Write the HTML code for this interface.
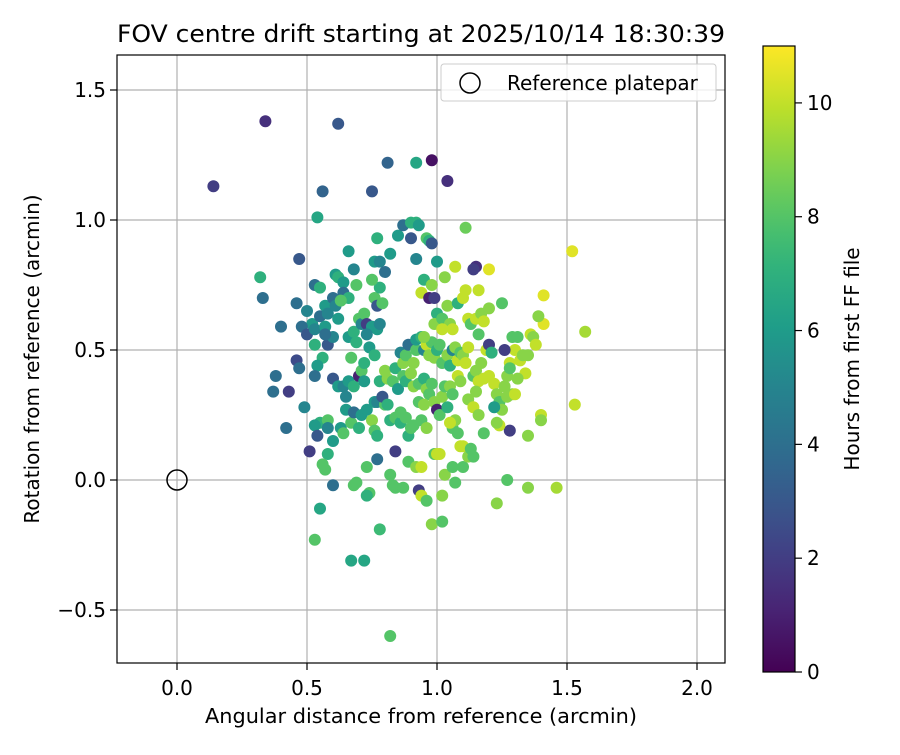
<!DOCTYPE html>
<html><head><meta charset="utf-8"><style>
body{margin:0;background:#fff}
svg text{font-family:"DejaVu Sans","Liberation Sans",sans-serif;fill:#000}
</style></head><body>
<svg id="chart" width="900" height="750" xmlns="http://www.w3.org/2000/svg">
<rect width="900" height="750" fill="#fff"/>
<g id="grid"></g><g id="pts"></g><g id="axes"></g>
</svg>
<script>
const xTicks=[0.0,0.5,1.0,1.5,2.0];
const yTicks=[-0.5,0.0,0.5,1.0,1.5];
const cbTicks=[0,2,4,6,8,10];
const xs=[0.34,0.14,0.62,0.81,0.92,0.98,1.04,0.56,0.75,0.54,0.47,0.32,0.33,0.40,0.38,0.37,0.43,0.42,0.46,0.47,0.49,0.51,0.55,0.53,0.67,0.72,0.82,0.78,0.60,1.35,1.46,1.23,1.27,1.52,1.57,1.53,1.11,1.20,1.15,1.41,1.41,1.28,1.35,1.40,1.40,
0.50,0.52,0.46,0.48,0.50,0.53,0.55,0.57,0.58,0.60,0.61,0.62,0.64,0.64,0.66,0.69,0.68,0.66,0.53,0.55,0.61,0.62,0.63,0.57,0.53,0.56,0.58,0.60,0.54,0.57,0.66,0.68,0.70,0.71,0.72,0.73,0.75,0.77,0.78,0.76,0.77,0.79,0.78,0.75,0.76,0.78,0.80,0.77,0.82,0.85,0.87,0.90,0.92,0.93,0.96,0.97,0.98,0.90,0.92,
0.53,0.60,0.62,0.64,0.65,0.66,0.68,0.70,0.71,0.72,0.74,0.76,0.73,0.72,0.67,0.69,0.55,0.53,0.54,0.58,0.58,0.60,0.58,0.57,0.56,0.63,0.64,0.65,0.67,0.68,0.70,0.71,0.73,0.75,0.76,0.77,0.76,0.77,0.80,0.79,0.81,0.78,0.80,0.81,0.83,0.84,0.85,0.84,0.82,0.84,0.86,0.86,0.88,0.89,0.90,0.91,0.89,0.92,0.94,0.93,0.94,0.96,0.98,1.02,1.02,0.73,0.74,0.73,0.68,0.69,0.77,0.82,0.83,0.84,0.87,0.99,1.00,1.01,1.03,1.06,1.07,1.10,1.09,1.10,1.12,1.13,1.14,1.06,1.08,1.07,1.05,
0.86,0.87,0.88,0.89,0.87,0.88,0.90,0.91,0.92,0.92,0.94,0.95,0.96,0.97,0.98,0.99,1.00,1.01,1.02,1.04,1.05,1.06,1.07,1.08,1.09,1.10,1.11,0.91,0.93,0.95,0.96,0.97,0.98,0.99,1.00,1.01,1.02,1.03,1.04,1.05,1.06,1.08,1.09,0.93,0.95,0.94,0.96,
0.94,0.95,0.97,0.98,0.99,1.00,1.00,0.99,1.02,1.03,1.04,1.05,1.06,1.07,1.08,1.10,1.11,1.12,1.13,1.14,1.15,1.16,1.17,1.18,0.95,1.02,
1.12,1.14,1.15,1.16,1.17,1.18,1.19,1.20,1.21,1.22,1.23,1.24,1.25,1.24,1.23,1.22,1.26,1.27,1.28,1.29,1.30,1.31,1.32,1.33,1.34,1.35,1.36,1.37,1.38,1.39,1.27,1.29,1.31,1.30,1.26,1.28,1.25,1.20,1.16,1.12,1.14,1.16,1.18,1.15,1.20];
const ys=[1.38,1.13,1.37,1.22,1.22,1.23,1.15,1.11,1.11,1.01,0.85,0.78,0.70,0.59,0.40,0.34,0.34,0.20,0.46,0.43,0.28,0.11,-0.11,-0.23,-0.31,-0.31,-0.60,-0.19,-0.02,-0.03,-0.03,-0.09,0.0,0.88,0.57,0.29,0.97,0.81,0.82,0.71,0.60,0.19,0.17,0.25,0.23,
0.65,0.60,0.68,0.59,0.56,0.58,0.63,0.67,0.64,0.70,0.79,0.78,0.76,0.72,0.70,0.75,0.81,0.88,0.75,0.74,0.67,0.62,0.69,0.59,0.52,0.47,0.52,0.55,0.44,0.56,0.55,0.57,0.62,0.60,0.64,0.60,0.59,0.58,0.60,0.70,0.67,0.68,0.74,0.77,0.84,0.84,0.80,0.93,0.87,0.94,0.98,0.99,0.99,0.98,0.93,0.92,0.91,0.93,0.85,
0.40,0.39,0.36,0.36,0.32,0.38,0.36,0.40,0.42,0.45,0.51,0.48,0.56,0.38,0.47,0.53,0.22,0.21,0.17,0.23,0.20,0.15,0.10,0.04,0.06,0.20,0.18,0.27,0.22,0.26,0.20,0.25,0.27,0.23,0.19,0.17,0.30,0.30,0.29,0.32,0.29,0.38,0.42,0.39,0.38,0.43,0.35,0.11,0.23,0.24,0.22,0.26,0.24,0.17,0.20,0.21,0.07,0.05,0.05,-0.04,-0.06,-0.08,-0.17,-0.16,-0.06,0.05,-0.05,-0.06,-0.02,-0.01,0.08,0.02,-0.02,-0.03,-0.03,0.10,0.10,0.10,0.02,0.05,-0.01,0.05,0.13,0.13,0.09,0.12,0.09,0.20,0.18,0.23,0.22,
0.49,0.45,0.48,0.52,0.40,0.38,0.41,0.45,0.50,0.54,0.55,0.50,0.52,0.48,0.53,0.47,0.50,0.52,0.45,0.48,0.44,0.50,0.51,0.46,0.49,0.48,0.45,0.36,0.37,0.39,0.35,0.33,0.37,0.30,0.27,0.25,0.32,0.36,0.28,0.36,0.33,0.40,0.38,0.30,0.29,0.23,0.20,
0.72,0.77,0.70,0.75,0.70,0.84,0.64,0.60,0.62,0.78,0.67,0.60,0.58,0.82,0.68,0.70,0.73,0.62,0.60,0.81,0.62,0.56,0.64,0.61,0.55,0.58,
0.51,0.40,0.42,0.38,0.45,0.39,0.50,0.52,0.49,0.37,0.33,0.30,0.27,0.21,0.22,0.28,0.36,0.40,0.45,0.55,0.50,0.55,0.46,0.48,0.41,0.48,0.56,0.55,0.52,0.63,0.32,0.33,0.39,0.33,0.50,0.43,0.68,0.66,0.73,0.31,0.28,0.25,0.18,0.34,0.40];
const hours=[1.5,2,3,3.5,6.5,0.5,1.5,3.5,3,6.5,3,7,4,4,4,4,2,4,2.5,4,5,2,6.5,8,6.5,6.5,8,7.5,4,9,9.5,9,8,10.5,9.5,10,8.5,10.5,1.5,10.5,10.5,2,9,10,9,
5,6,4,4,3,5,4,6,5,4,6,7,6,4,7,8,5,6,4,7,5,6,8,6,7,7,3,5,6,4,6,7,8,5,8,2,6,6,5,8,3,8,7,8,6,5,4,7,6,6,4,7,7,6,8,7,3,3,5,
4,3,6,5,5,6,7,1,8,7,6,7,5,6,8,7,7,6,3,8,5,6,7,8,8,6,8,6,8,4,7,6,6,9,8,7,6,5,8,3,7,7,9,9,8,7,6,2,7,8,7,8,8,7,8,8,8,9,10,2,10,8,9,8,9,8,8,7,8,8,4,8,8,8,8,8,10,10,9,8,8,8,10,10,9,8,8,8,8,9,10,
5,9,8,4,8,7,9,9,8,6,7,5,10,9,8,9,7,8,8,9,7,5,9,10,8,9,10,9,8,7,9,8,8,9,1,8,9,8,7,9,8,10,9,8,9,8,9,
10,7,1,9,2,6,7,9,8,9,9,9,10,10,7,10,10,10,8,2,10,8,9,10,9,10,
10,8,9,10,9,10,10,2,7,10,9,8,9,10,9,6,9,9,10,8,10,8,10,9,10,9,10,9,10,9,9,9,9,10,2,8,8,9,10,9,10,9,8,9,10];
const X0=177,XS=260,Y0=480,YS=260,L=117,R=725,T=55,B=663;
const sx=v=>X0+v*XS, sy=v=>Y0-v*YS;
const VIR=[[68,1,84],[72,40,120],[62,74,137],[49,104,142],[38,130,142],[31,158,137],[53,183,121],[110,206,88],[181,222,43],[253,231,37]];
function vir(t){t=Math.max(0,Math.min(1,t))*9;const i=Math.min(8,Math.floor(t)),f=t-i;const a=VIR[i],b=VIR[i+1];return `rgb(${a.map((c,k)=>Math.round(c+(b[k]-c)*f)).join(',')})`;}
const HMAX=11;
const NS="http://www.w3.org/2000/svg";
function mk(tag,attrs,parent,txt){const e=document.createElementNS(NS,tag);for(const k in attrs)e.setAttribute(k,attrs[k]);if(txt!==undefined)e.textContent=txt;parent.appendChild(e);return e;}
const svg=document.getElementById('chart'),grid=document.getElementById('grid'),pts=document.getElementById('pts'),axes=document.getElementById('axes');
const FS=20;
xTicks.forEach(v=>{const x=sx(v);
const g=mk('line',{x1:x,x2:x,y1:T,y2:B,stroke:'#b0b0b0','stroke-width':1.2},grid);

mk('line',{x1:x,x2:x,y1:B,y2:B+7,stroke:'#000','stroke-width':1.2},axes);
const t=mk('text',{x:x,y:B+32,'text-anchor':'middle','font-size':FS},axes,v.toFixed(1));
});
yTicks.forEach(v=>{const y=sy(v);
const g=mk('line',{x1:L,x2:R,y1:y,y2:y,stroke:'#b0b0b0','stroke-width':1.2},grid);

mk('line',{x1:L-7,x2:L,y1:y,y2:y,stroke:'#000','stroke-width':1.2},axes);
const t=mk('text',{x:L-11,y:y+7,'text-anchor':'end','font-size':FS},axes,(v<0?'\u2212'+Math.abs(v).toFixed(1):v.toFixed(1)));
});
for(let i=0;i<xs.length;i++){
const c=mk('circle',{cx:sx(xs[i]),cy:sy(ys[i]),r:6,fill:vir(hours[i]/HMAX)},pts);

}
const ref=mk('circle',{cx:sx(0),cy:sy(0),r:10,fill:'none',stroke:'#000','stroke-width':1.5},pts);

const frame=mk('rect',{x:L,y:T,width:R-L,height:B-T,fill:'none',stroke:'#000','stroke-width':1.2},axes);

const title=mk('text',{x:(L+R)/2,y:42,'text-anchor':'middle','font-size':24,textLength:608,lengthAdjust:'spacingAndGlyphs'},axes,'FOV centre drift starting at 2025/10/14 18:30:39');

const xl=mk('text',{x:(L+R)/2,y:723,'text-anchor':'middle','font-size':FS,textLength:432,lengthAdjust:'spacingAndGlyphs'},axes,'Angular distance from reference (arcmin)');

const yl=mk('text',{x:0,y:0,'text-anchor':'middle','font-size':FS,transform:`translate(39,${(T+B)/2}) rotate(-90)`},axes,'Rotation from reference (arcmin)');

const lg=mk('g',{},axes);
mk('rect',{x:441,y:64,width:275,height:37,rx:3,fill:'#fff','fill-opacity':0.8,stroke:'#ccc'},lg);
mk('circle',{cx:470,cy:83,r:10,fill:'none',stroke:'#000','stroke-width':1.5},lg);
const lt=mk('text',{x:507,y:90,'font-size':FS},lg,'Reference platepar');

const CBX=763,CBW=32,CBT=46,CBB=672;
const defs=mk('defs',{},svg);const gr=mk('linearGradient',{id:'vg',x1:0,y1:1,x2:0,y2:0},defs);
for(let i=0;i<=20;i++)mk('stop',{offset:i/20,'stop-color':vir(i/20)},gr);
const cb=mk('rect',{x:CBX,y:CBT,width:CBW,height:CBB-CBT,fill:'url(#vg)',stroke:'#000','stroke-width':1.2},axes);

const cy=h=>CBB-h/HMAX*(CBB-CBT);
cbTicks.forEach(h=>{mk('line',{x1:CBX+CBW,x2:CBX+CBW+7,y1:cy(h),y2:cy(h),stroke:'#000','stroke-width':1.2},axes);
const t=mk('text',{x:CBX+CBW+12,y:cy(h)+7,'font-size':FS},axes,String(h));
});
const cl=mk('text',{x:0,y:0,'text-anchor':'middle','font-size':FS,transform:`translate(859,${(CBT+CBB)/2}) rotate(-90)`},axes,'Hours from first FF file');

</script>
</body></html>
